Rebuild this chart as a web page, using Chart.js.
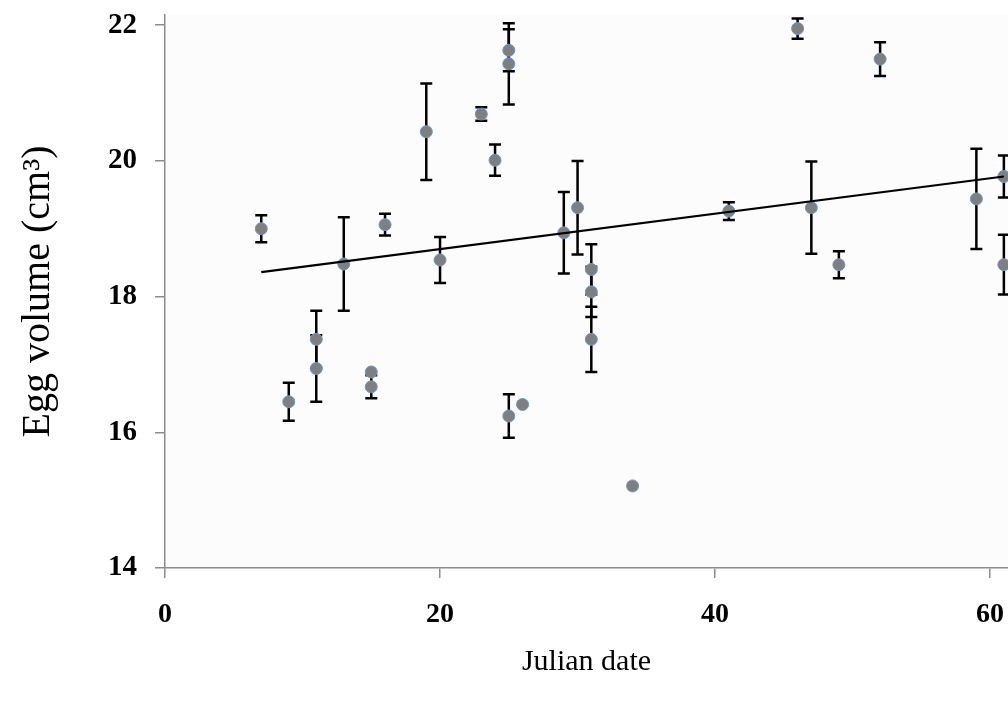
<!DOCTYPE html>
<html>
<head>
<meta charset="utf-8">
<script src="https://cdn.jsdelivr.net/npm/chart.js@4.4.1/dist/chart.umd.min.js"></script>
<style>
  html, body { margin: 0; padding: 0; background: #ffffff; }
  #wrap { width: 1008px; height: 702px; position: relative; }
</style>
</head>
<body>
<div id="wrap"><canvas id="eggChart"></canvas></div>
<script>
// data
const julianDate = [7, 9, 11, 11, 13, 15, 15, 16, 19, 20, 23, 24, 25, 25, 25, 26, 29, 30, 31, 31, 31, 34, 41, 46, 47, 49, 52, 59, 61, 61];
const eggVolume = [19.00, 16.45, 17.37, 16.94, 18.48, 16.89, 16.67, 19.06, 20.43, 18.54, 20.69, 20.01, 21.63, 21.43, 16.24, 16.41, 18.94, 19.31, 18.40, 18.07, 17.37, 15.21, 19.26, 21.95, 19.31, 18.47, 21.50, 19.44, 19.77, 18.47];
const volumeError = [0.20, 0.28, 0.42, 0.49, 0.69, 0, 0.17, 0.16, 0.71, 0.34, 0.10, 0.23, 0.31, 0.60, 0.32, 0, 0.60, 0.69, 0.37, 0.37, 0.48, 0, 0.13, 0.15, 0.68, 0.20, 0.25, 0.74, 0.31, 0.44];
const trendX = [7, 61];
const trendY = [18.36, 19.77];
const xTicks = [0, 20, 40, 60];
const yTicks = [14, 16, 18, 20, 22];

const points = julianDate.map((x, i) => ({ x: x, y: eggVolume[i] }));
const trend = trendX.map((x, i) => ({ x: x, y: trendY[i] }));

// light plot background
const plotBg = {
    id: 'plotBg',
    beforeDraw(chart) {
        const { ctx, chartArea } = chart;
        ctx.save();
        ctx.fillStyle = '#fcfcfc';
        ctx.fillRect(chartArea.left, chartArea.top, chartArea.right - chartArea.left, chartArea.bottom - chartArea.top);
        ctx.restore();
    }
};

// vertical error bars with caps
const errorBars = {
    id: 'errorBars',
    beforeDatasetsDraw(chart) {
        const { ctx, scales } = chart;
        const xs = scales.x, ys = scales.y;
        ctx.save();
        ctx.strokeStyle = '#000000';
        ctx.lineWidth = 2.5;
        julianDate.forEach((d, i) => {
            const e = volumeError[i];
            if (!e) return;
            const px = xs.getPixelForValue(d);
            const top = ys.getPixelForValue(eggVolume[i] + e);
            const bot = ys.getPixelForValue(eggVolume[i] - e);
            ctx.beginPath();
            ctx.moveTo(px, top); ctx.lineTo(px, bot);
            ctx.moveTo(px - 6, top); ctx.lineTo(px + 6, top);
            ctx.moveTo(px - 6, bot); ctx.lineTo(px + 6, bot);
            ctx.stroke();
        });
        ctx.restore();
    }
};

const serif = '"Liberation Serif", "Times New Roman", serif';

new Chart(document.getElementById('eggChart'), {
    type: 'scatter',
    data: {
        datasets: [{
            type: 'line',
            label: 'Trend',
            data: trend,
            borderColor: '#000000',
            borderWidth: 2.2,
            pointRadius: 0,
            fill: false,
            order: 0
        }, {
            label: 'Egg volume',
            data: points,
            backgroundColor: '#7f7f7f',
            borderColor: '#7096cc',
            borderWidth: 1,
            pointRadius: 6,
            order: 1
        }]
    },
    options: {
        responsive: true,
        maintainAspectRatio: false,
        animation: false,
        layout: { autoPadding: false, padding: { top: 15, right: 0, bottom: 0, left: 0 } },
        plugins: {
            legend: { display: false },
            tooltip: { enabled: false }
        },
        scales: {
            x: {
                type: 'linear',
                min: 0,
                max: 61.3,
                afterBuildTicks: (s) => { s.ticks = xTicks.map(v => ({ value: v })); },
                afterFit: (s) => { s.height = 134; s.paddingLeft = 0; s.paddingRight = 0; },
                ticks: {
                    color: '#000000',
                    padding: 20,
                    font: { family: serif, size: 28, weight: 'bold' }
                },
                grid: { drawOnChartArea: false, drawTicks: true, tickLength: 10, color: '#8c8c8c', lineWidth: 1.5 },
                border: { display: true, color: '#8c8c8c', width: 1.5 },
                title: {
                    display: true,
                    text: 'Julian date',
                    color: '#000000',
                    padding: { top: 0, bottom: 22 },
                    font: { family: serif, size: 30, weight: 'normal' }
                }
            },
            y: {
                min: 14,
                max: 22.15,
                afterBuildTicks: (s) => { s.ticks = yTicks.map(v => ({ value: v })); },
                afterFit: (s) => { s.width = 165; s.paddingTop = 0; s.paddingBottom = 0; },
                ticks: {
                    color: '#000000',
                    padding: 18,
                    font: { family: serif, size: 29, weight: 'bold' }
                },
                grid: { drawOnChartArea: false, drawTicks: true, tickLength: 10, color: '#8c8c8c', lineWidth: 1.5 },
                border: { display: true, color: '#8c8c8c', width: 1.5 },
                title: {
                    display: true,
                    text: 'Egg volume (cm³)',
                    color: '#000000',
                    padding: { top: 14, bottom: 0 },
                    font: { family: serif, size: 40, weight: 'normal' }
                }
            }
        }
    },
    plugins: [plotBg, errorBars]
});
</script>
</body>
</html>
